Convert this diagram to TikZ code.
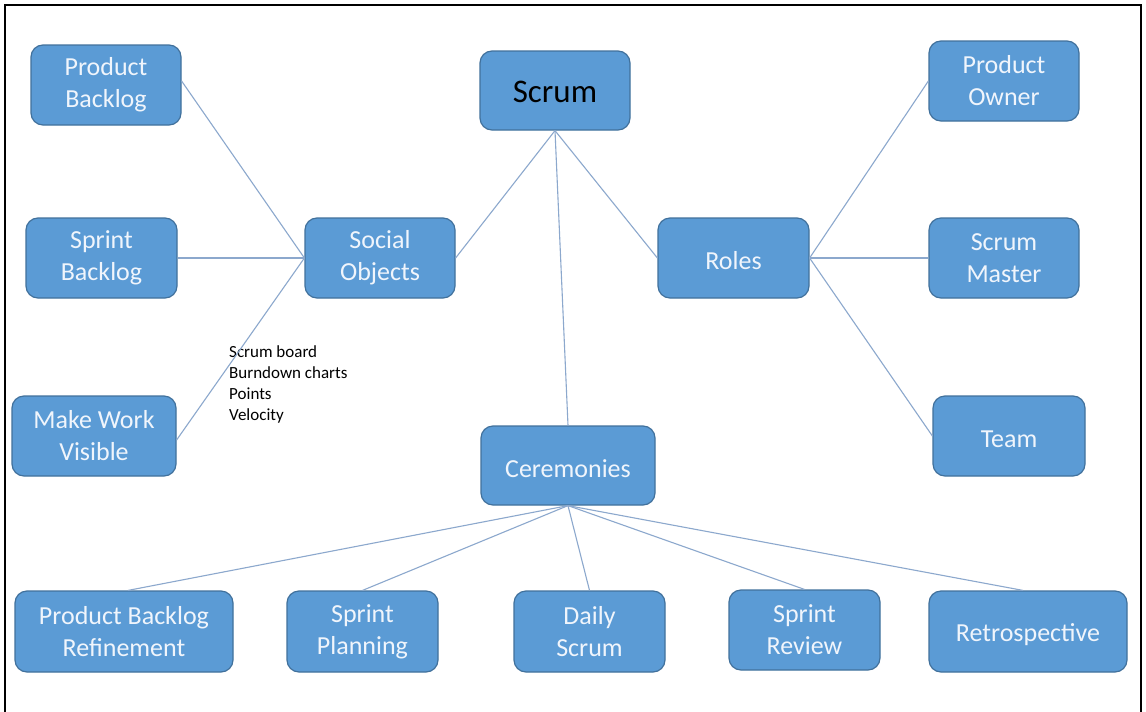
\documentclass[tikz,border=0pt]{standalone}
\usepackage{fontspec}
\setmainfont{Carlito}
\definecolor{boxfill}{RGB}{91,155,213}
\definecolor{boxline}{RGB}{65,113,156}
\definecolor{conn}{RGB}{140,168,205}
\definecolor{boxtext}{RGB}{240,245,252}
\begin{document}
\begin{tikzpicture}[x=1pt,y=-1pt,
  box/.style={draw=boxline, line width=1.2pt, fill=boxfill, rounded corners=12pt,
    text=boxtext, align=center, inner sep=0pt,
    font=\fontsize{26}{32}\selectfont, execute at begin node={\rule{0pt}{24pt}}},
  conn/.style={draw=conn, line width=1.1pt}]
\useasboundingbox (0,0) rectangle (1146,712);
\fill[white] (0,0) rectangle (1146,712);
\draw[black, line width=2.5pt] (5,712) -- (5,5) -- (1141,5) -- (1141,712);
% nodes
\node[box, minimum width=150pt, minimum height=80pt] (pb) at (106,85) {Product\\Backlog};
\node[box, minimum width=151pt, minimum height=80pt] (sb) at (101.5,258) {Sprint\\Backlog};
\node[box, minimum width=164pt, minimum height=80pt] (mwv) at (94,436) {Make Work\\Visible};
\node[box, minimum width=150pt, minimum height=80pt] (so) at (380,258) {Social\\Objects};
\node[box, minimum width=150pt, minimum height=79pt, text=black, font=\fontsize{33}{38}\selectfont, execute at begin node={}] (scrum) at (555,90.5) {Scrum};
\node[box, minimum width=151pt, minimum height=80pt] (roles) at (733.5,258) {Roles};
\node[box, minimum width=150pt, minimum height=80pt] (po) at (1004,81) {Product\\Owner};
\node[box, minimum width=150pt, minimum height=80pt] (sm) at (1004,258) {Scrum\\Master};
\node[box, minimum width=152pt, minimum height=80pt] (team) at (1009,436) {Team};
\node[box, minimum width=174pt, minimum height=79pt] (cer) at (568,465.5) {Ceremonies};
\node[box, minimum width=218pt, minimum height=81pt] (pbr) at (124,631.5) {Product Backlog\\Refinement};
\node[box, minimum width=151pt, minimum height=81pt] (sp) at (362.5,631.5) {Sprint\\Planning};
\node[box, minimum width=151pt, minimum height=81pt] (ds) at (589.5,631.5) {Daily\\Scrum};
\node[box, minimum width=151pt, minimum height=80pt] (sr) at (804.5,630) {Sprint\\Review};
\node[box, minimum width=198pt, minimum height=81pt] (retro) at (1028,631.5) {Retrospective};
% note
\node[anchor=north west, align=left, inner sep=0pt, font=\fontsize{17}{21}\selectfont] (note) at (229,345) {Scrum board\\Burndown charts\\Points\\Velocity};
% connectors
\draw[conn] ([yshift=4pt]pb.east) -- (so.west);
\draw[conn] (sb.east) -- (so.west);
\draw[conn] ([yshift=-4pt]mwv.east) -- (so.west);
\draw[conn] (so.east) -- (scrum.south);
\draw[conn] (scrum.south) -- (roles.west);
\draw[conn] (scrum.south) -- (cer.north);
\draw[conn] (roles.east) -- (po.west);
\draw[conn] (roles.east) -- (sm.west);
\draw[conn] (roles.east) -- (team.west);
\draw[conn] (cer.south) -- ([xshift=4pt]pbr.north);
\draw[conn] (cer.south) -- (sp.north);
\draw[conn] (cer.south) -- (ds.north);
\draw[conn] (cer.south) -- (sr.north);
\draw[conn] (cer.south) -- ([xshift=-5pt]retro.north);
\end{tikzpicture}
\end{document}
